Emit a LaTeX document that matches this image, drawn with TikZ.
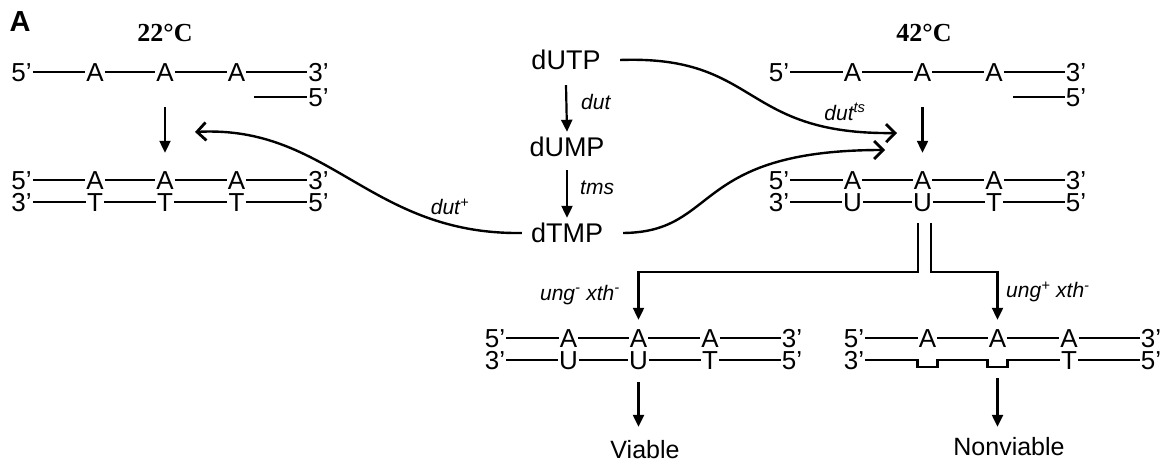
\documentclass[tikz,border=0pt]{standalone}
\usepackage{fontspec}
\setmainfont{Liberation Sans}
\newfontfamily\timesf{Liberation Serif}
\usetikzlibrary{arrows.meta}
\tikzset{
  base/.style={font=\fontsize{26}{26}\selectfont, inner sep=1pt, text height=18.6pt, text depth=0pt},
  metab/.style={font=\fontsize{27}{27}\selectfont, inner sep=1pt, text height=19.5pt, text depth=0pt},
  outcome/.style={font=\fontsize{25}{25}\selectfont, inner sep=1pt, text height=17.9pt, text depth=0pt},
  gene/.style={font=\fontsize{21}{21}\selectfont\itshape, inner sep=1pt},
  temp/.style={font=\fontsize{26}{26}\selectfont\timesf\bfseries, inner sep=1pt},
  strand/.style={line width=2.2pt},
  arr/.style={line width=2.2pt, -{Triangle[length=12pt,width=11pt]}},
  curvearr/.style={line width=2.4pt, -{Straight Barb[length=9pt,width=18pt,line width=2.8pt]}}
}
\newcommand{\dnarow}[8]{%
  \node[base] (#1a) at (#2,#3) {#4};
  \node[base] (#1b) at (#2+73.5,#3) {#5};
  \node[base] (#1c) at (#2+143.5,#3) {#6};
  \node[base] (#1d) at (#2+215,#3) {#7};
  \node[base] (#1e) at (#2+297,#3) {#8};
  \draw[strand] (#1a) -- (#1b) -- (#1c) -- (#1d) -- (#1e);
}
\begin{document}
\begin{tikzpicture}[x=1pt,y=-1pt]
\useasboundingbox (0,0) rectangle (1161,462);
\fill[white] (0,0) rectangle (1161,462);

% panel label and temperatures
\node[font=\fontsize{29}{29}\selectfont\bfseries, inner sep=0pt] (panel) at (20,22) {A};
\node[temp] (t22) at (165,33) {22°C};
\node[temp] (t42) at (924,33) {42°C};

% 22 C side
\dnarow{tlt}{21.5}{72}{5’}{A}{A}{A}{3’}
\node[base] (tlp) at (318.5,97) {5’};
\coordinate (tlps) at (254,97);
\draw[strand] (tlps) -- (tlp);
\dnarow{tla}{21.5}{180}{5’}{A}{A}{A}{3’}
\dnarow{tlb}{21.5}{202}{3’}{T}{T}{T}{5’}
\draw[arr] ([yshift=-24.7pt]tltc.south) -- ([yshift=16.7pt]tlac.north);

% 42 C side
\dnarow{trt}{779}{72}{5’}{A}{A}{A}{3’}
\node[base] (trp) at (1076,97) {5’};
\coordinate (trps) at (1013,97);
\draw[strand] (trps) -- (trp);
\dnarow{tra}{779}{180}{5’}{A}{A}{A}{3’}
\dnarow{trb}{779}{202}{3’}{U}{U}{T}{5’}
\draw[arr] ([yshift=-24.7pt]trtc.south) -- ([yshift=16.7pt]trac.north);

% nucleotide pathway
\node[metab] (dUTP) at (566,60) {dUTP};
\node[metab] (dUMP) at (567,147) {dUMP};
\node[metab] (dTMP) at (567,233) {dTMP};
\draw[arr] ([yshift=-14.25pt]dUTP.south) -- ([yshift=4.25pt]dUMP.north);
\draw[arr] ([yshift=-12.25pt]dUMP.south) -- ([yshift=4.25pt]dTMP.north);
\node[gene, anchor=west] (ldut) at (580,102) {dut};
\node[gene, anchor=west] (ltms) at (579,188) {tms};
\node[gene] (ldutp) at (450,207) {dut\textsuperscript{+}};
\node[gene] (lduts) at (845,112) {dut\textsuperscript{ts}};

\coordinate (tipL) at (195,132);
\coordinate (tipR1) at (897,133);
\coordinate (tipR2) at (885,150);
\draw[curvearr] ([xshift=-8pt]dTMP.west) .. controls (370,235) and (330,125) .. (tipL);
\draw[curvearr] ([xshift=18.5pt]dUTP.east) .. controls (760,55) and (740,135) .. (tipR1);
\draw[curvearr] ([xshift=19pt]dTMP.east) .. controls (720,232) and (690,150) .. (tipR2);

% bottom: ung- xth-
\dnarow{bla}{495}{338}{5’}{A}{A}{A}{3’}
\dnarow{blb}{495}{360}{3’}{U}{U}{T}{5’}
\node[outcome] (viable) at (645,450) {Viable};
\draw[arr, shorten >=13pt] ([yshift=-11.7pt]blbc.south) -- (blbc |- viable.north);

% bottom: ung+ xth-
\dnarow{bra}{854}{338}{5’}{A}{A}{A}{3’}
\node[base] (brba) at (854,360) {3’};
\coordinate (u1) at (927.5,360);
\coordinate (u2) at (997.5,360);
\node[base] (brbd) at (1069,360) {T};
\node[base] (brbe) at (1151,360) {5’};
\draw[strand] (brba.east) -- ([xshift=-10pt]u1) -- ++(0,7) -- ++(20,0) -- ++(0,-7)
  -- ([xshift=-10pt]u2) -- ++(0,7) -- ++(20,0) -- ++(0,-7) -- (brbd) -- (brbe);
\node[outcome] (nonviable) at (1009,447) {Nonviable};
\draw[arr, shorten >=10pt] ([yshift=-18pt]u2) -- (u2 |- nonviable.north);

% split connector
\draw[arr, shorten >=7.7pt] ([xshift=-4.5pt,yshift=-10.7pt]trbc.south) -- ++(0,49) -| (blac.north);
\draw[arr, shorten >=7.7pt] ([xshift=8.5pt,yshift=-10.7pt]trbc.south) -- ++(0,49) -| (brac.north);
\node[gene, anchor=east] (lungm) at (621,295) {ung\textsuperscript{-} xth\textsuperscript{-}};
\node[gene, anchor=west] (lungp) at (1005,292) {ung\textsuperscript{+} xth\textsuperscript{-}};
\end{tikzpicture}
\end{document}
